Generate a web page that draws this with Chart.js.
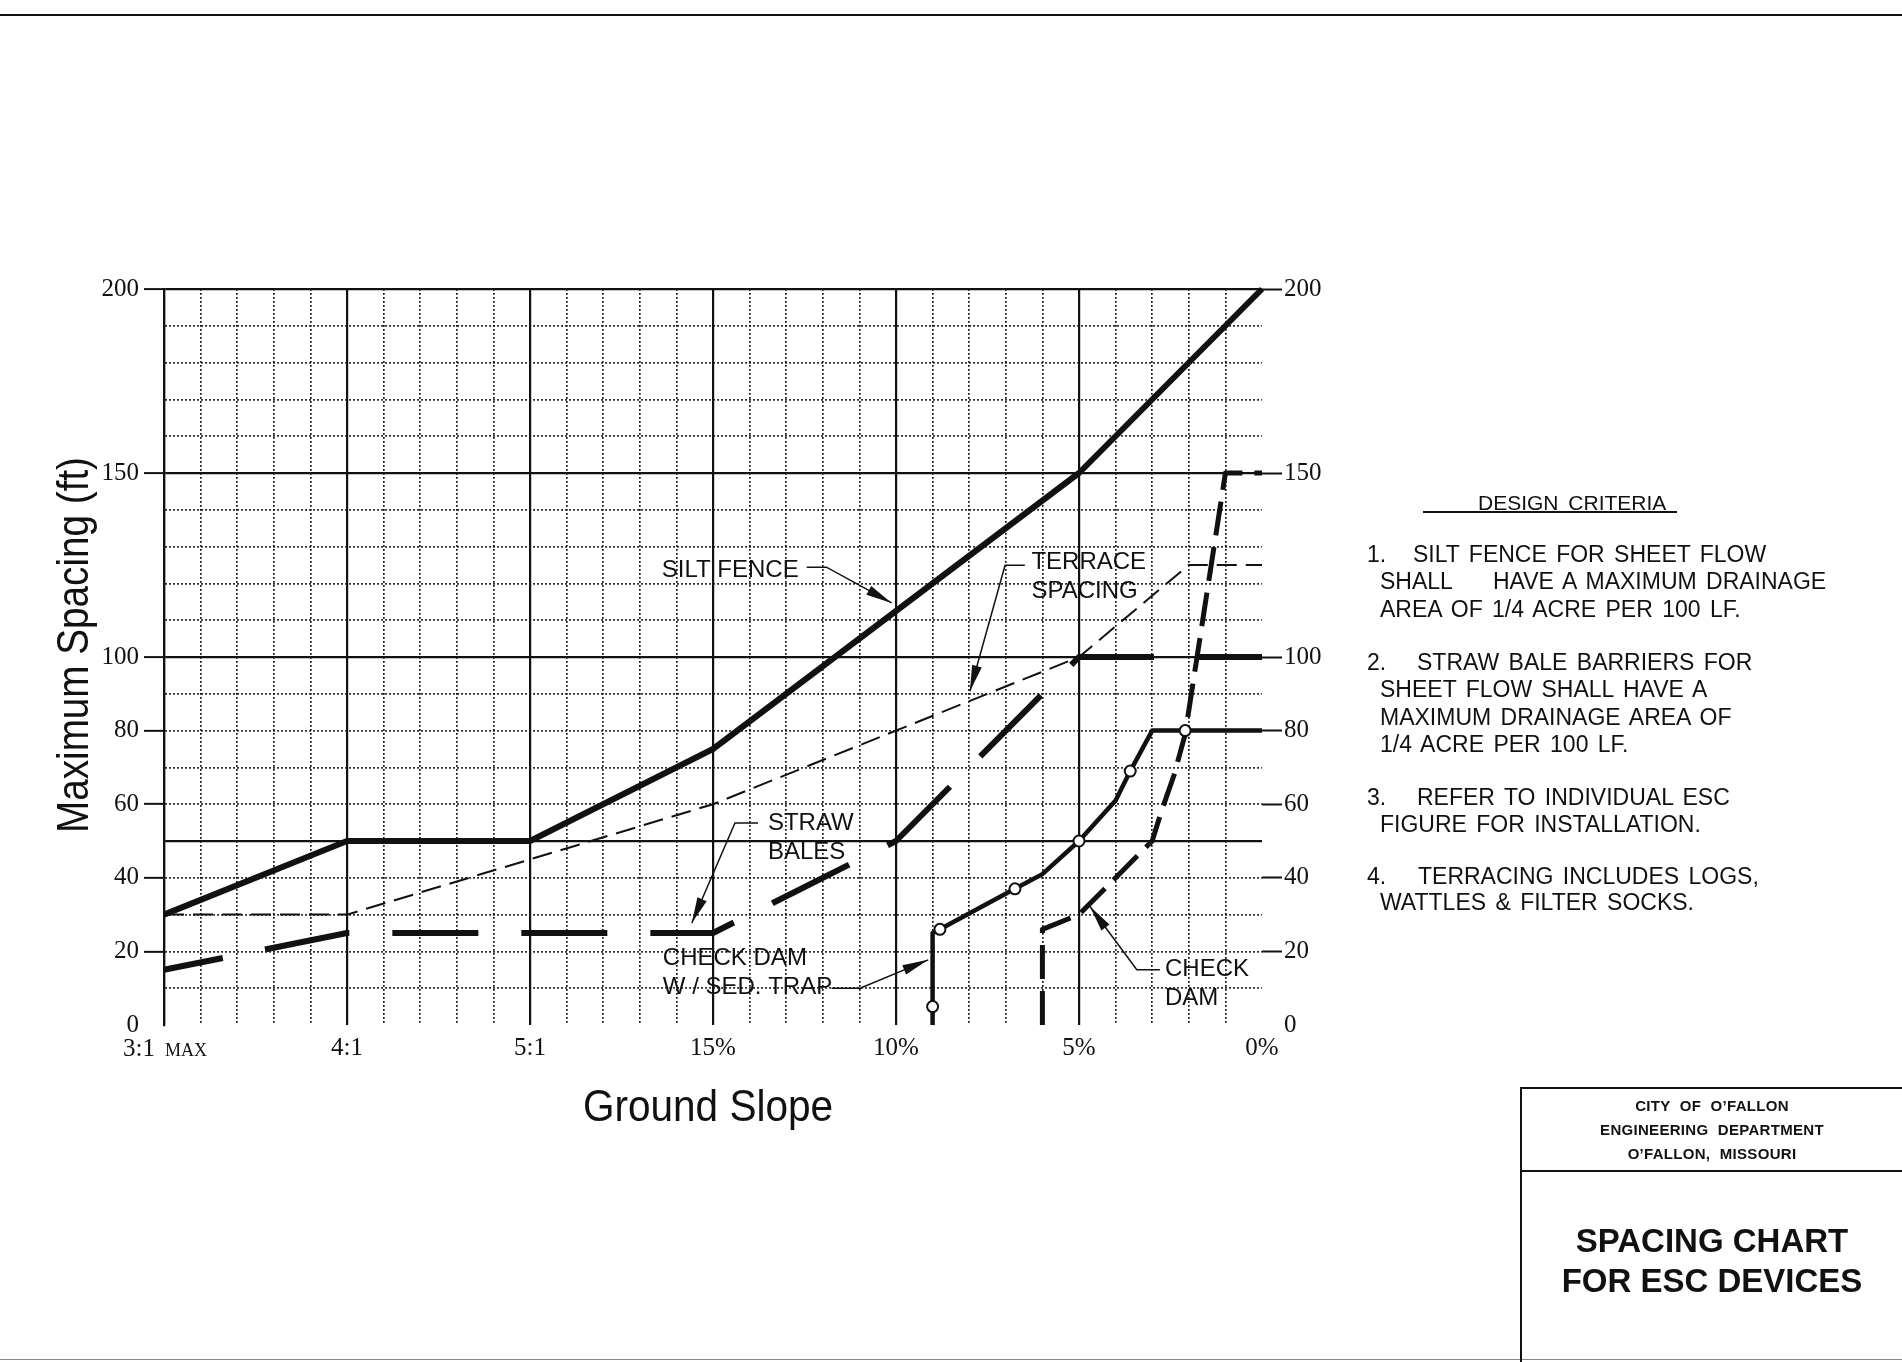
<!DOCTYPE html>
<html>
<head>
<meta charset="utf-8">
<title>Spacing Chart for ESC Devices</title>
<script src="https://cdn.jsdelivr.net/npm/chart.js@4.4.1/dist/chart.umd.min.js"></script>
<style>
    html, body { margin: 0; padding: 0; background: #fff; }
    body {
        width: 1902px; height: 1362px; position: relative; overflow: hidden;
        font-family: 'Liberation Sans', Arial, sans-serif; color: #111;
    }
    #chart-box { position: absolute; left: 0; top: 0; width: 1902px; height: 1362px; }
    .rule { position: absolute; background: #111; }
    .note { position: absolute; font-size: 23px; line-height: 23px; white-space: pre; word-spacing: 3px; }
    .heading { position: absolute; font-size: 21px; line-height: 21px; white-space: pre; word-spacing: 4px; }
    .office {
        position: absolute; left: 1522px; width: 380px; text-align: center;
        font-weight: bold; font-size: 15px; line-height: 15px; letter-spacing: 0.3px; word-spacing: 5px;
    }
    .title {
        position: absolute; left: 1522px; width: 380px; text-align: center;
        font-weight: bold; font-size: 33px; line-height: 33px;
    }
</style>
</head>
<body>
<div class="rule" style="left:0;top:14px;width:1902px;height:2px"></div>
<div class="rule" style="left:0;top:1359px;width:1902px;height:1px;background:#888"></div>

<div id="chart-box"><canvas id="spacing-chart"></canvas></div>

<!-- design criteria notes -->
<div class="heading" style="left:1478px;top:492px">DESIGN CRITERIA</div>
<div class="rule" style="left:1423px;top:511px;width:254px;height:2px"></div>

<div class="note" style="left:1367px;top:543px">1.</div>
<div class="note" style="left:1413px;top:543px">SILT FENCE FOR SHEET FLOW</div>
<div class="note" style="left:1380px;top:570px">SHALL</div>
<div class="note" style="left:1493px;top:570px">HAVE A MAXIMUM DRAINAGE</div>
<div class="note" style="left:1380px;top:598px">AREA OF 1/4 ACRE PER 100 LF.</div>

<div class="note" style="left:1367px;top:651px">2.</div>
<div class="note" style="left:1417px;top:651px">STRAW BALE BARRIERS FOR</div>
<div class="note" style="left:1380px;top:678px">SHEET FLOW SHALL HAVE A</div>
<div class="note" style="left:1380px;top:706px">MAXIMUM DRAINAGE AREA OF</div>
<div class="note" style="left:1380px;top:733px">1/4 ACRE PER 100 LF.</div>

<div class="note" style="left:1367px;top:786px">3.</div>
<div class="note" style="left:1417px;top:786px">REFER TO INDIVIDUAL ESC</div>
<div class="note" style="left:1380px;top:813px">FIGURE FOR INSTALLATION.</div>

<div class="note" style="left:1367px;top:865px">4.</div>
<div class="note" style="left:1418px;top:865px">TERRACING INCLUDES LOGS,</div>
<div class="note" style="left:1380px;top:891px">WATTLES &amp; FILTER SOCKS.</div>

<!-- title block -->
<div class="rule" style="left:1520px;top:1087px;width:2px;height:275px"></div>
<div class="rule" style="left:1520px;top:1087px;width:382px;height:2px"></div>
<div class="rule" style="left:1520px;top:1170px;width:382px;height:2px"></div>
<div class="office" style="top:1098px">CITY OF O’FALLON</div>
<div class="office" style="top:1122px">ENGINEERING DEPARTMENT</div>
<div class="office" style="top:1146px">O’FALLON, MISSOURI</div>
<div class="title" style="top:1224px">SPACING CHART</div>
<div class="title" style="top:1264px">FOR ESC DEVICES</div>

<script>
document.addEventListener('DOMContentLoaded', function () {

    // ==========================================================================
    // Chart data
    // x runs 0..30 along the ground slope grid, y is spacing in feet
    // ==========================================================================
    const slopeLabels = ['3:1', '4:1', '5:1', '15%', '10%', '5%', '0%'];   // at x = 0, 5, ... 30
    const spacingTicks = [0, 20, 40, 60, 80, 100, 150, 200];

    const siltFenceX = [0, 5, 10, 15, 25, 30];
    const siltFenceY = [30, 50, 50, 75, 150, 200];

    const terraceX = [0, 5, 15, 25, 28, 30];
    const terraceY = [30, 30, 60, 100, 125, 125];

    const strawBalesX = [0, 5, 15, 20, 25, 30];
    const strawBalesY = [15, 25, 25, 50, 100, 100];

    const sedTrapX = [21, 21, 21, 21.2, 23.25, 24, 25, 26, 26.4, 27, 27.9, 30];
    const sedTrapY = [0, 5, 25, 26, 37, 41, 50, 61, 69, 80, 80, 80];
    const sedTrapMarks = [false, true, false, true, true, false, true, false, true, false, true, false];

    const checkDamX = [24, 24, 25, 27, 27.25, 27.6, 27.9, 29, 30];
    const checkDamY = [0, 26, 30, 50, 58, 68, 79, 150, 150];

    // ==========================================================================
    // Helpers
    // ==========================================================================
    const ink = '#111';
    const serif = "'Liberation Serif', 'Times New Roman', serif";
    const sans = "'Liberation Sans', Arial, sans-serif";

    function toPoints(xs, ys) {
        return xs.map((x, i) => ({ x: x, y: ys[i] }));
    }

    // callout text + leader, in data units
    const callouts = [
        { lines: ['SILT FENCE'], x: 13.6, y: 123.6, leader: [[17.56, 124.4], [18.1, 124.4], [19.88, 114.7]] },
        { lines: ['TERRACE', 'SPACING'], x: 23.7, y: 125.6, leader: [[23.52, 124.9], [22.98, 124.9], [22.02, 90.7]] },
        { lines: ['STRAW', 'BALES'], x: 16.5, y: 54.9, leader: [[16.23, 54.9], [15.6, 54.9], [14.42, 27.7]] },
        { lines: ['CHECK DAM', 'W / SED. TRAP'], x: 13.63, y: 18.2, leader: [[18.24, 10], [19.02, 10], [20.88, 17.7]] },
        { lines: ['CHECK', 'DAM'], x: 27.35, y: 15, leader: [[27.21, 15], [26.58, 15], [25.3, 32.2]] },
    ];

    // ==========================================================================
    // Plugins: callouts, axis titles, first slope label
    // ==========================================================================
    const calloutPlugin = {
        id: 'callouts',
        afterDatasetsDraw(chart) {
            const { ctx } = chart;
            const xs = chart.scales.x, ys = chart.scales.y;
            ctx.save();
            ctx.fillStyle = ink;
            ctx.strokeStyle = ink;
            ctx.lineWidth = 1.5;
            ctx.font = '24px ' + sans;
            ctx.textBaseline = 'middle';
            callouts.forEach(c => {
                const px = xs.getPixelForValue(c.x), py = ys.getPixelForValue(c.y);
                c.lines.forEach((t, i) => ctx.fillText(t, px, py + i * 29));

                const pts = c.leader.map(p => [xs.getPixelForValue(p[0]), ys.getPixelForValue(p[1])]);
                ctx.beginPath();
                ctx.moveTo(pts[0][0], pts[0][1]);
                for (let i = 1; i < pts.length; i++) ctx.lineTo(pts[i][0], pts[i][1]);
                ctx.stroke();

                // arrow head at the end of the leader
                const [tx, ty] = pts[pts.length - 1];
                const [bx, by] = pts[pts.length - 2];
                const ang = Math.atan2(ty - by, tx - bx);
                const len = 26, half = 5;
                ctx.beginPath();
                ctx.moveTo(tx, ty);
                ctx.lineTo(tx - len * Math.cos(ang) + half * Math.sin(ang), ty - len * Math.sin(ang) - half * Math.cos(ang));
                ctx.lineTo(tx - len * Math.cos(ang) - half * Math.sin(ang), ty - len * Math.sin(ang) + half * Math.cos(ang));
                ctx.closePath();
                ctx.fill();
            });
            ctx.restore();
        }
    };

    const titlePlugin = {
        id: 'axisTitles',
        afterDraw(chart) {
            const { ctx, chartArea } = chart;
            const x0 = chart.scales.x.getPixelForValue(0);
            ctx.save();
            ctx.fillStyle = ink;

            // first slope label with small-caps MAX
            ctx.textBaseline = 'alphabetic';
            ctx.font = '25px ' + serif;
            ctx.textAlign = 'right';
            ctx.fillText(slopeLabels[0], x0 - 9, chartArea.bottom + 31);
            ctx.font = '18px ' + serif;
            ctx.textAlign = 'left';
            ctx.fillText('MAX', x0 + 1, chartArea.bottom + 31);

            // axis titles, slightly condensed like the drawing
            ctx.font = '44px ' + sans;
            ctx.textAlign = 'center';
            ctx.textBaseline = 'middle';

            const yTitle = 'Maximum Spacing (ft)';
            ctx.save();
            ctx.translate(chartArea.left - 88, (chartArea.top + chartArea.bottom) / 2 - 12);
            ctx.rotate(-Math.PI / 2);
            ctx.scale(376 / ctx.measureText(yTitle).width, 1);
            ctx.fillText(yTitle, 0, 0);
            ctx.restore();

            const xTitle = 'Ground Slope';
            ctx.save();
            ctx.translate(chartArea.left + 544, chartArea.bottom + 84);
            ctx.scale(250 / ctx.measureText(xTitle).width, 1);
            ctx.fillText(xTitle, 0, 0);
            ctx.restore();

            ctx.restore();
        }
    };

    // ==========================================================================
    // Grid styling (dotted minor lines, solid major lines)
    // ==========================================================================
    const minorDash = [1.7, 2.3];
    const yMajor = v => v % 50 === 0;
    const xMajor = v => v % 5 === 0;
    const yTickColor = c => (spacingTicks.includes(c.tick.value) && c.tick.value !== 0) ? ink : 'rgba(0,0,0,0)';
    const yLabel = v => spacingTicks.includes(v) ? String(v) : '';

    // ==========================================================================
    // Chart
    // ==========================================================================
    const ctx = document.getElementById('spacing-chart').getContext('2d');
    new Chart(ctx, {
        type: 'line',
        data: {
            datasets: [
                {
                    label: 'Silt fence',
                    data: toPoints(siltFenceX, siltFenceY),
                    borderColor: ink, borderWidth: 6, pointRadius: 0, order: 1,
                },
                {
                    label: 'Check dam w/ sed. trap',
                    data: toPoints(sedTrapX, sedTrapY),
                    borderColor: ink, borderWidth: 4.5,
                    pointRadius: sedTrapMarks.map(m => m ? 5.5 : 0),
                    pointBackgroundColor: '#fff', pointBorderColor: ink, pointBorderWidth: 2,
                    order: 0,
                },
                {
                    label: 'Check dam',
                    data: toPoints(checkDamX, checkDamY),
                    borderColor: ink, borderWidth: 5, borderDash: [34, 12], pointRadius: 0, order: 2,
                },
                {
                    label: 'Straw bales',
                    data: toPoints(strawBalesX, strawBalesY),
                    borderColor: ink, borderWidth: 6, borderDash: [86, 43], borderDashOffset: 26,
                    pointRadius: 0, order: 3,
                },
                {
                    label: 'Terrace spacing',
                    data: toPoints(terraceX, terraceY),
                    borderColor: ink, borderWidth: 2, borderDash: [20, 9], pointRadius: 0, order: 4,
                },
            ]
        },
        options: {
            responsive: true,
            maintainAspectRatio: false,
            animation: false,
            clip: false,
            layout: { padding: { top: 289, left: 0, right: 0, bottom: 0 } },
            elements: { line: { tension: 0, borderCapStyle: 'butt', borderJoinStyle: 'round' } },
            plugins: { legend: { display: false }, tooltip: { enabled: false } },
            scales: {
                x: {
                    type: 'linear', min: 0, max: 30,
                    afterFit: s => { s.height = 337; },
                    ticks: {
                        stepSize: 1, autoSkip: false, maxRotation: 0, padding: 8,
                        color: ink, font: { family: serif, size: 25 },
                        callback: v => (xMajor(v) && v > 0) ? slopeLabels[Math.round(v / 5)] : '',
                    },
                    grid: {
                        drawTicks: false,
                        color: c => c.tick.value >= 30 ? 'rgba(0,0,0,0)' : ink,
                        lineWidth: c => xMajor(c.tick.value) ? 2.2 : 1.7,
                    },
                    border: {
                        display: false,
                        dash: c => (c.tick && !xMajor(c.tick.value)) ? minorDash : [],
                    },
                },
                y: {
                    position: 'left', min: 0, max: 200,
                    afterFit: s => { s.width = 164; },
                    ticks: {
                        stepSize: 10, autoSkip: false, padding: 5,
                        color: ink, font: { family: serif, size: 25 },
                        callback: yLabel,
                    },
                    grid: {
                        tickLength: 20, tickWidth: 2, tickColor: yTickColor,
                        color: c => c.tick.value === 0 ? 'rgba(0,0,0,0)' : ink,
                        lineWidth: c => yMajor(c.tick.value) ? 2.2 : 1.7,
                    },
                    border: {
                        display: true, color: ink, width: 2.2,
                        dash: c => (c.tick && !yMajor(c.tick.value)) ? minorDash : [],
                    },
                },
                y2: {
                    position: 'right', min: 0, max: 200,
                    afterFit: s => { s.width = 640; },
                    ticks: {
                        stepSize: 10, autoSkip: false, padding: 2,
                        color: ink, font: { family: serif, size: 25 },
                        callback: yLabel,
                    },
                    grid: {
                        drawOnChartArea: false,
                        tickLength: 20, tickWidth: 2, tickColor: yTickColor,
                    },
                    border: { display: false },
                },
            }
        },
        plugins: [calloutPlugin, titlePlugin]
    });
});
</script>
</body>
</html>
